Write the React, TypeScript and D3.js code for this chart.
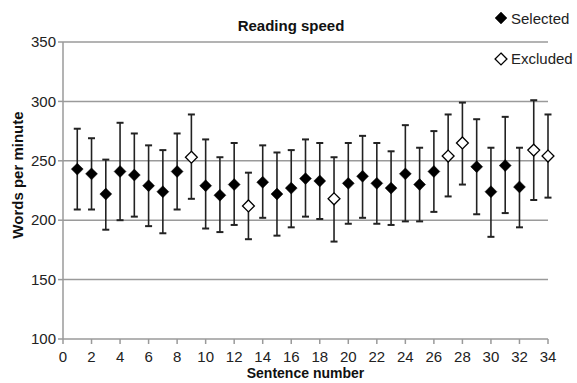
import * as d3 from 'd3';

const sentences = [1, 2, 3, 4, 5, 6, 7, 8, 9, 10, 11, 12, 13, 14, 15, 16, 17, 18, 19, 20, 21, 22, 23, 24, 25, 26, 27, 28, 29, 30, 31, 32, 33, 34];
const means = [243, 239, 222, 241, 238, 229, 224, 241, 253, 229, 221, 230, 212, 232, 222, 227, 235, 233, 218, 231, 237, 231, 227, 239, 230, 241, 254, 265, 245, 224, 246, 228, 259, 254];
const upper = [277, 269, 251, 282, 273, 263, 259, 273, 289, 268, 253, 265, 240, 263, 257, 259, 268, 265, 253, 265, 271, 265, 258, 280, 261, 275, 289, 299, 285, 261, 287, 261, 301, 289];
const lower = [209, 209, 192, 200, 203, 195, 189, 209, 218, 193, 190, 196, 184, 202, 187, 194, 203, 201, 182, 197, 202, 197, 196, 199, 199, 207, 220, 230, 205, 186, 206, 194, 217, 219];
const excluded = [9, 13, 19, 27, 28, 33, 34];
const yTicks = [100, 150, 200, 250, 300, 350];
const xTicks = d3.range(0, 35, 2);

const W = 577;
const H = 383;
const font = '"Liberation Sans", Arial, sans-serif';

export default function App() {
  const x = d3.scaleLinear().domain([0, 34]).range([63, 548]);
  const y = d3.scaleLinear().domain([100, 350]).range([339, 42]);
  const diamond = d3.symbol().type(d3.symbolDiamond2).size(90)();
  const grid = '#9a9a9a';

  return (
    <svg width={W} height={H} style={{ position: 'absolute', left: 0, top: 0, background: '#fff' }} fontFamily={font}>
      {/* grid lines */}
      {yTicks.slice(1).map((t) => (
        <line key={t} x1={x(0)} x2={x(34)} y1={y(t)} y2={y(t)} stroke={grid} strokeWidth={1.5} />
      ))}
      {/* axes */}
      <line x1={x(0)} x2={x(0)} y1={y(100)} y2={y(350)} stroke={grid} strokeWidth={1.5} />
      <line x1={x(0)} x2={x(34)} y1={y(100)} y2={y(100)} stroke={grid} strokeWidth={1.5} />
      {yTicks.map((t) => (
        <g key={t}>
          <line x1={x(0) - 5} x2={x(0)} y1={y(t)} y2={y(t)} stroke={grid} strokeWidth={1.5} />
          <text x={x(0) - 7} y={y(t)} dy="0.35em" textAnchor="end" fontSize={15} fill="#222">{t}</text>
        </g>
      ))}
      {xTicks.map((t) => (
        <g key={t}>
          <line x1={x(t)} x2={x(t)} y1={y(100)} y2={y(100) + 5} stroke={grid} strokeWidth={1.5} />
          <text x={x(t)} y={362} textAnchor="middle" fontSize={15} fill="#222">{t}</text>
        </g>
      ))}
      {/* error bars + markers */}
      {sentences.map((s, i) => {
        const cx = x(s);
        const ex = excluded.includes(s);
        return (
          <g key={s}>
            <line x1={cx} x2={cx} y1={y(lower[i])} y2={y(upper[i])} stroke="#222" strokeWidth={1.6} />
            <line x1={cx - 3.5} x2={cx + 3.5} y1={y(upper[i])} y2={y(upper[i])} stroke="#222" strokeWidth={2} />
            <line x1={cx - 3.5} x2={cx + 3.5} y1={y(lower[i])} y2={y(lower[i])} stroke="#222" strokeWidth={2} />
            <path d={diamond} transform={`translate(${cx},${y(means[i])})`} fill={ex ? '#fff' : '#000'} stroke="#000" strokeWidth={ex ? 1.3 : 0.5} />
          </g>
        );
      })}
      {/* titles */}
      <text x={291} y={31} textAnchor="middle" fontSize={15} fontWeight="bold" fill="#111">Reading speed</text>
      <text transform={`translate(23,${175}) rotate(-90)`} textAnchor="middle" fontSize={15} fontWeight="bold" fill="#111">Words per minute</text>
      <text x={x(17)} y={378} textAnchor="middle" fontSize={14} fontWeight="bold" fill="#111">Sentence number</text>
      {/* legend */}
      <path d={diamond} transform="translate(501,18)" fill="#000" stroke="#000" strokeWidth={0.5} />
      <text x={511} y={24} fontSize={15} fill="#222">Selected</text>
      <path d={diamond} transform="translate(501,59)" fill="#fff" stroke="#000" strokeWidth={1.3} />
      <text x={511} y={64} fontSize={15} fill="#222">Excluded</text>
    </svg>
  );
}
